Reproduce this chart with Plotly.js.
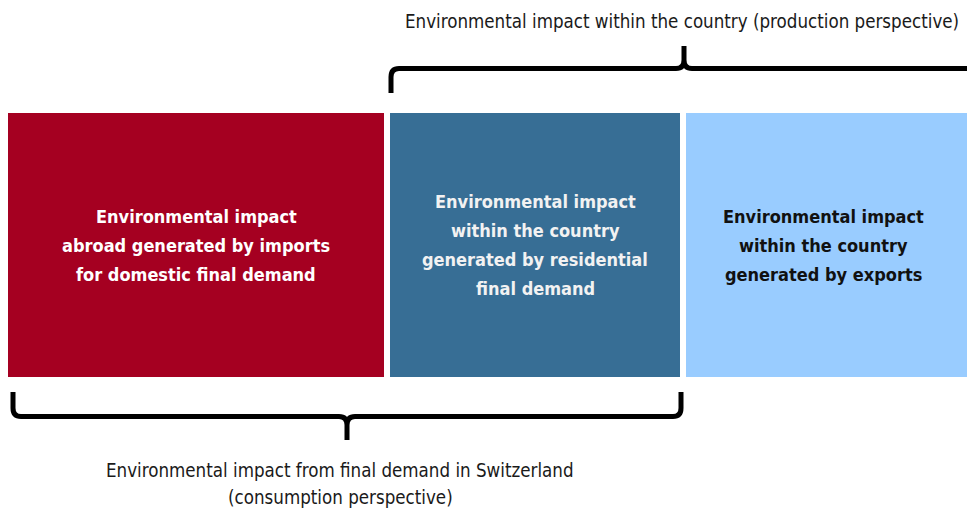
<!DOCTYPE html>
<html>
<head>
<meta charset="utf-8">
<script src="https://cdn.plot.ly/plotly-3.0.1.min.js"></script>
<style>html,body{margin:0;padding:0;background:#fff;}#chart{width:967px;height:515px;}</style>
</head>
<body>
<div id="chart"></div>
<script>
// Diagram content
const boxLabels = [
  ["Environmental impact", "abroad generated by imports", "for domestic final demand"],
  ["Environmental impact", "within the country", "generated by residential", "final demand"],
  ["Environmental impact", "within the country", "generated by exports"]
];
const topBracketLabel = ["Environmental impact within the country (production perspective)"];
const bottomBracketLabel = ["Environmental impact from final demand in Switzerland", "(consumption perspective)"];

// Layout geometry (pixel-like axis units)
const boxStart = [8, 390, 686];
const boxEnd = [384, 680, 968];
const boxTop = 113, boxBottom = 377;
const boxColors = ["#A50021", "#376E95", "#99CCFF"];
const textColors = ["#FFFFFF", "#F2F2F2", "#111111"];
const FONT = "'Liberation Sans Narrow', 'Arial Narrow', 'DejaVu Sans Condensed', sans-serif";

const traces = [{
  type: "bar",
  orientation: "h",
  y: [ (boxTop+boxBottom)/2, (boxTop+boxBottom)/2, (boxTop+boxBottom)/2 ],
  base: boxStart,
  x: boxStart.map((s,i)=>boxEnd[i]-s),
  width: boxBottom - boxTop,
  marker: {color: boxColors, line: {width: 0}},
  hoverinfo: "skip",
  showlegend: false
}];

const annotations = [];
const lineGap = 29;
boxLabels.forEach((lines, i) => {
  const cx = (boxStart[i] + boxEnd[i]) / 2 + (i===2 ? -4 : 0);
  const cy = (boxTop + boxBottom) / 2;
  lines.forEach((t, j) => {
    annotations.push({
      x: cx, y: cy + (j - (lines.length-1)/2) * lineGap,
      xref: "x", yref: "y", text: "<b>" + t + "</b>", showarrow: false,
      font: {family: FONT, size: 18, color: textColors[i]},
      xanchor: "center", yanchor: "middle"
    });
  });
});
topBracketLabel.forEach((t, j) => annotations.push({
  x: 682, y: 21 + j*27, xref: "x", yref: "y", text: t, showarrow: false,
  font: {family: FONT, size: 18.6, color: "#1a1a1a"}, xanchor: "center", yanchor: "middle"
}));
bottomBracketLabel.forEach((t, j) => annotations.push({
  x: 340, y: 470 + j*27, xref: "x", yref: "y", text: t, showarrow: false,
  font: {family: FONT, size: 18.6, color: "#1a1a1a"}, xanchor: "center", yanchor: "middle"
}));

// Brackets
const topPath = "M 391 93 L 391 77 Q 391 68.5 399 68.5 L 676 68.5 Q 684 68.5 684 60 L 684 46 L 684 60 Q 684 68.5 692 68.5 L 975 68.5";
const botPath = "M 13 392 L 13 408 Q 13 416.5 21 416.5 L 339 416.5 Q 347 416.5 347 425 L 347 440 L 347 425 Q 347 416.5 355 416.5 L 673 416.5 Q 681 416.5 681 408 L 681 392";

const layout = {
  width: 967, height: 515,
  margin: {l:0, r:0, t:0, b:0},
  paper_bgcolor: "#fff", plot_bgcolor: "#fff",
  xaxis: {range: [0, 967], visible: false, fixedrange: true},
  yaxis: {range: [515, 0], visible: false, fixedrange: true},
  bargap: 0,
  annotations: annotations,
  shapes: [
    {type: "path", xref: "x", yref: "y", path: topPath, line: {color: "#000", width: 5}, layer: "above"},
    {type: "path", xref: "x", yref: "y", path: botPath, line: {color: "#000", width: 5}, layer: "above"}
  ]
};
Plotly.newPlot("chart", traces, layout, {staticPlot: true, displayModeBar: false});
</script>
</body>
</html>
